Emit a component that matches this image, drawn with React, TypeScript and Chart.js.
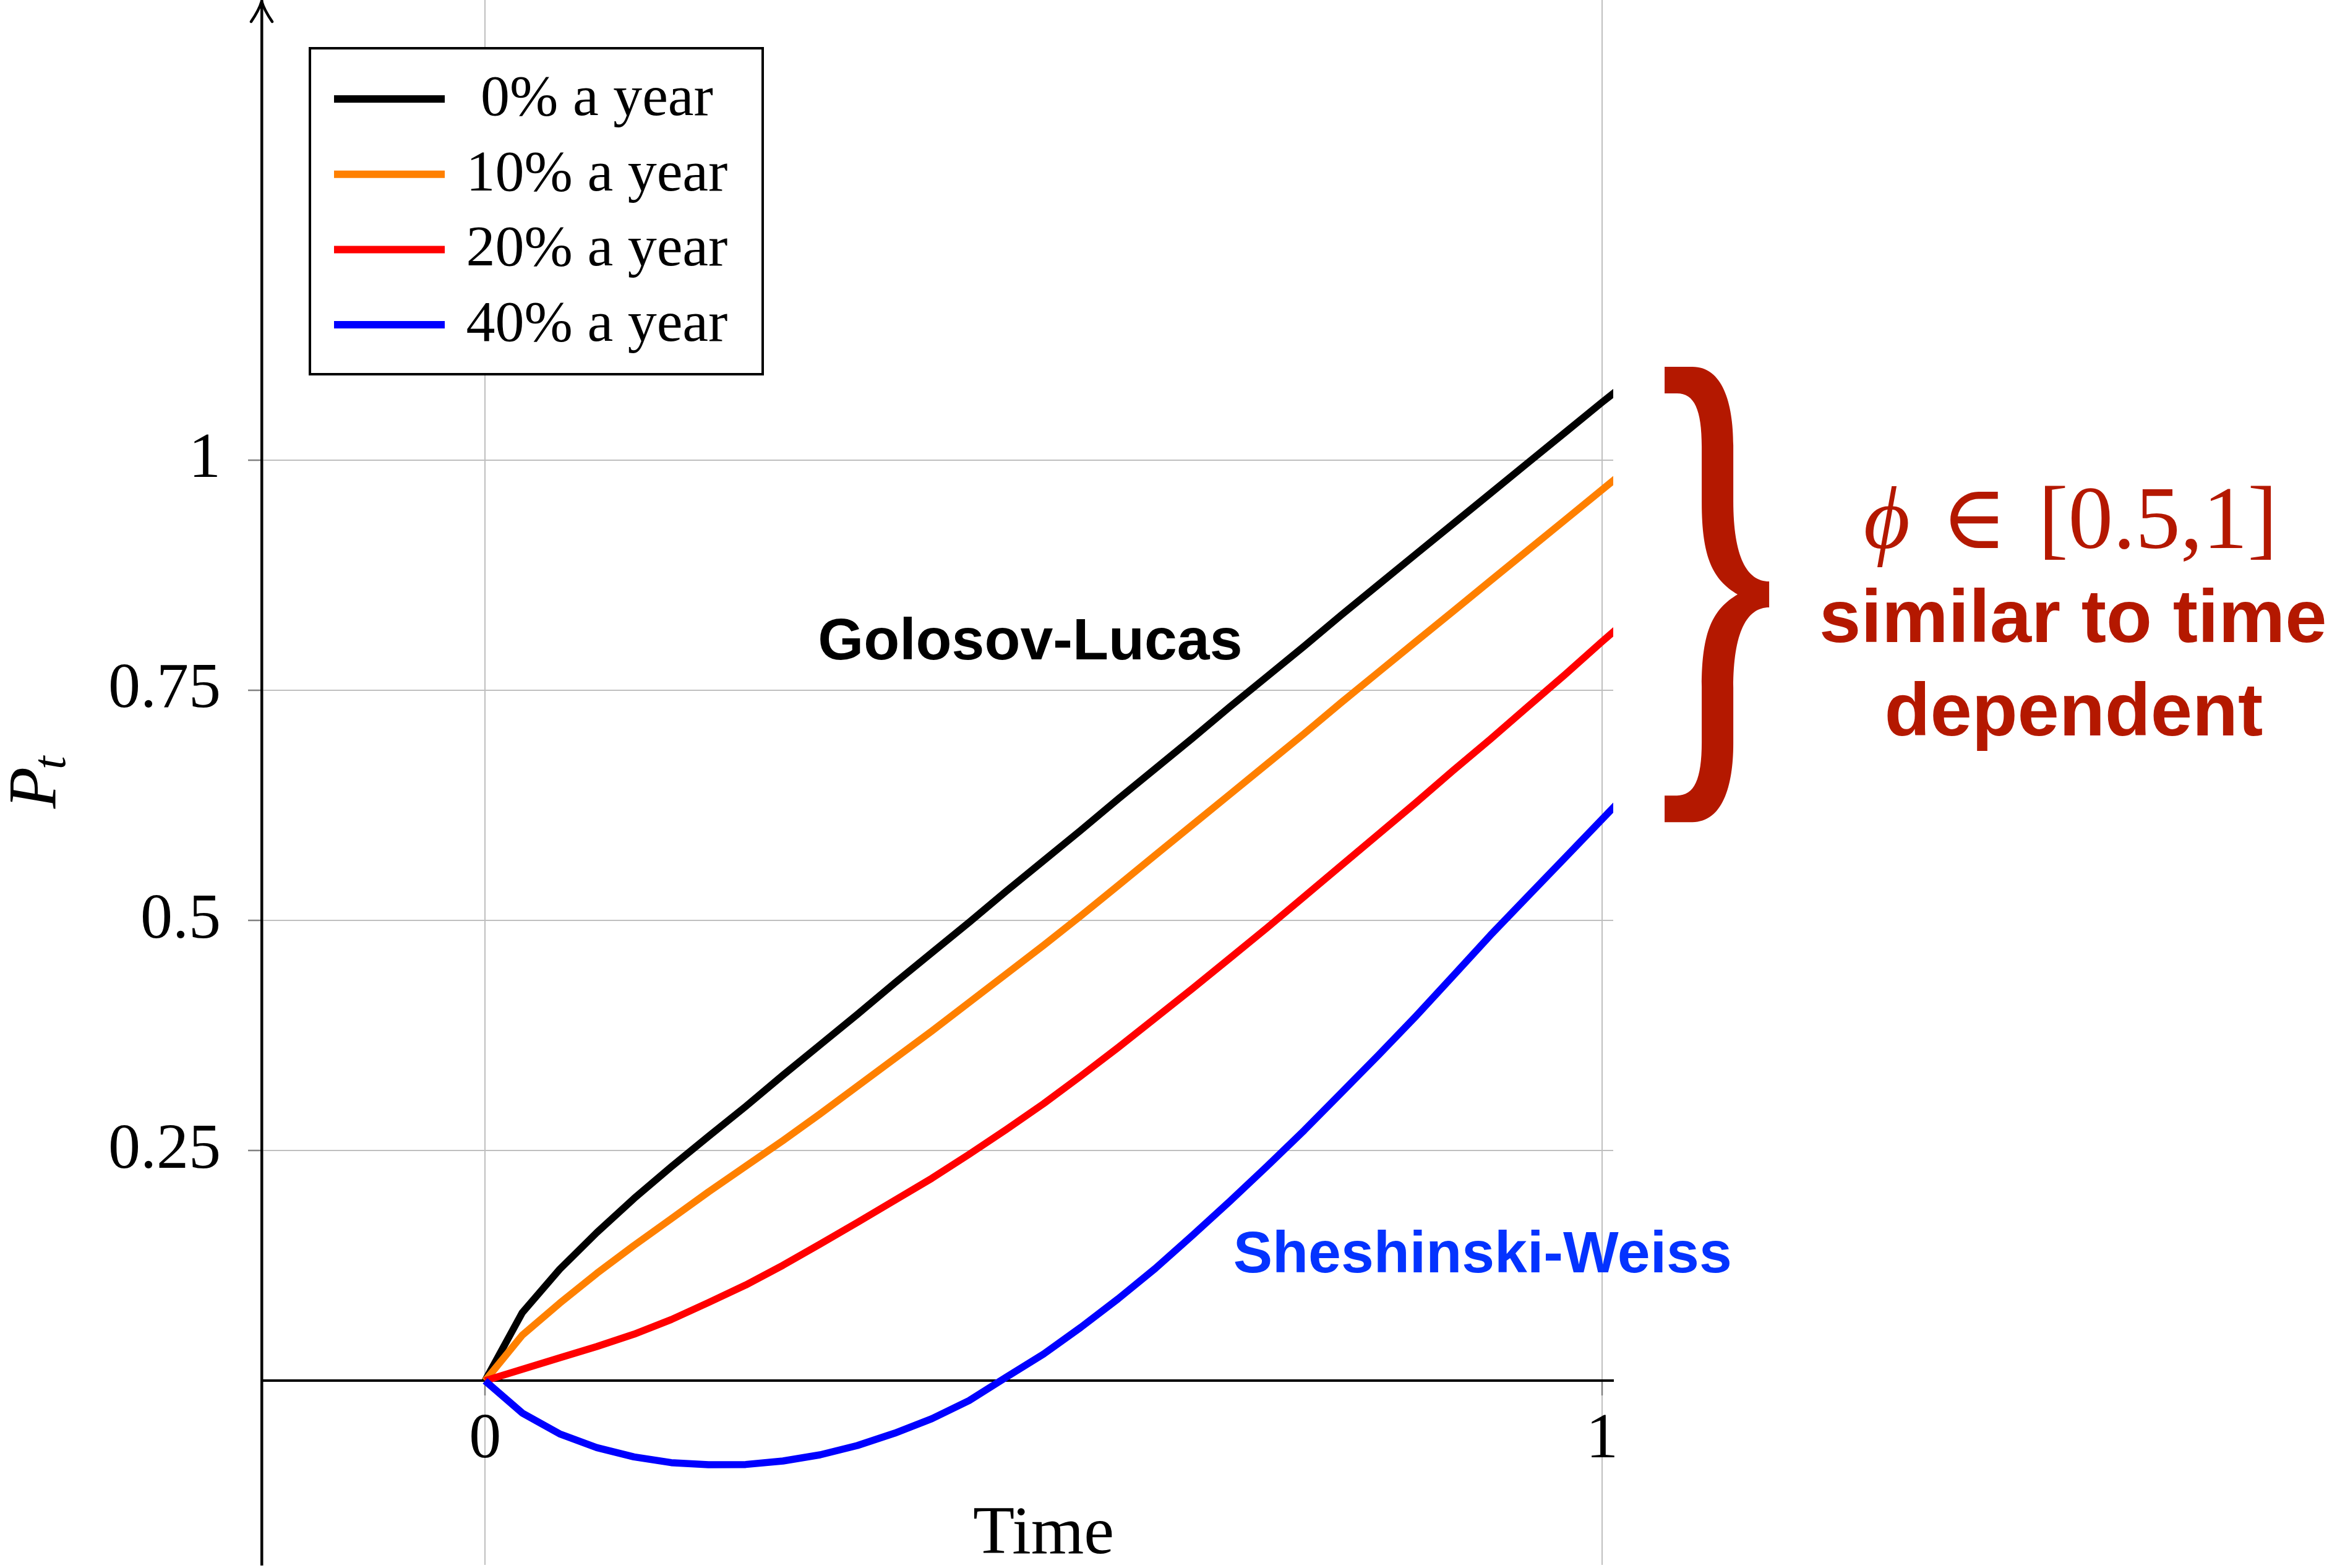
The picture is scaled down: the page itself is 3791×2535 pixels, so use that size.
import React, { useEffect, useRef } from "react";
import { Chart, registerables } from "chart.js";

Chart.register(...registerables);

const W = 3791;
const H = 2535;

// time grid (years)
const timeGrid = [
  0, 0.0333, 0.0667, 0.1, 0.1333, 0.1667, 0.2, 0.2333, 0.2667, 0.3,
  0.3333, 0.3667, 0.4, 0.4333, 0.4667, 0.5, 0.5333, 0.5667, 0.6, 0.6333,
  0.6667, 0.7, 0.7333, 0.7667, 0.8, 0.8333, 0.8667, 0.9, 0.9333, 0.9667,
  1.0, 1.0333,
];

// P_t for each inflation rate
const series0 = [
  0, 0.074, 0.121, 0.161, 0.198, 0.2325, 0.2655, 0.298, 0.332, 0.365,
  0.398, 0.432, 0.465, 0.498, 0.532, 0.565, 0.598, 0.632, 0.665, 0.698,
  0.732, 0.765, 0.798, 0.832, 0.865, 0.898, 0.931, 0.964, 0.997, 1.03,
  1.063, 1.095,
];
const series10 = [
  0, 0.0495, 0.0842, 0.1167, 0.147, 0.176, 0.2052, 0.233, 0.261, 0.29,
  0.32, 0.35, 0.38, 0.411, 0.442, 0.473, 0.505, 0.538, 0.571, 0.604,
  0.637, 0.67, 0.703, 0.737, 0.77, 0.803, 0.836, 0.869, 0.902, 0.935,
  0.968, 1.001,
];
const series20 = [
  0, 0.0125, 0.0249, 0.0372, 0.0506, 0.0665, 0.085, 0.104, 0.1255, 0.1485,
  0.172, 0.196, 0.22, 0.246, 0.273, 0.301, 0.331, 0.362, 0.394, 0.426,
  0.459, 0.492, 0.526, 0.56, 0.594, 0.628, 0.663, 0.697, 0.732, 0.767,
  0.803, 0.838,
];
const series40 = [
  0, -0.035, -0.0576, -0.0726, -0.0827, -0.0889, -0.0912, -0.0909, -0.0871, -0.0804,
  -0.0703, -0.0569, -0.0412, -0.0215, 0.004, 0.029, 0.058, 0.089, 0.122, 0.158,
  0.195, 0.233, 0.272, 0.313, 0.354, 0.396, 0.44, 0.484, 0.526, 0.568,
  0.61, 0.652,
];

const seriesValues = [series0, series10, series20, series40];
const seriesLabels = ["0% a year", "10% a year", "20% a year", "40% a year"];
const seriesColors = ["#000000", "#ff8000", "#ff0000", "#0000ff"];

const xTickValues = [0, 1];
const yTickValues = [0.25, 0.5, 0.75, 1];

const xAxisTitle = "Time";
const annotGL = "Golosov-Lucas";
const annotSW = "Sheshinski-Weiss";
const annotPhiSym = "\u03D5";
const annotIn = "\u2208";
const annotRange = "[0.5,1]";
const annotLine1 = "similar to time";
const annotLine2 = "dependent";

const SERIF = "'Liberation Serif', 'DejaVu Serif', serif";
const SANS = "'Liberation Sans', Arial, 'DejaVu Sans', sans-serif";
const DARK_RED = "#b41800";
const SW_BLUE = "#0433ff";

function drawBrace(ctx: CanvasRenderingContext2D, x0: number, y0: number, x1: number, y1: number) {
  const w = x1 - x0;
  const h = y1 - y0;
  const P = (u: number, v: number): [number, number] => [x0 + u * w, y0 + v * h];
  ctx.beginPath();
  ctx.moveTo(...P(0, 0));
  ctx.lineTo(...P(0.266, 0));
  ctx.bezierCurveTo(...P(0.55, 0), ...P(0.657, 0.0774), ...P(0.657, 0.1726));
  ctx.lineTo(...P(0.657, 0.2948));
  ctx.bezierCurveTo(...P(0.657, 0.4171), ...P(0.787, 0.4715), ...P(1, 0.4715));
  ctx.lineTo(...P(1, 0.5285));
  ctx.bezierCurveTo(...P(0.787, 0.5285), ...P(0.657, 0.5829), ...P(0.657, 0.7052));
  ctx.lineTo(...P(0.657, 0.8274));
  ctx.bezierCurveTo(...P(0.657, 0.9226), ...P(0.55, 1), ...P(0.266, 1));
  ctx.lineTo(...P(0, 1));
  ctx.lineTo(...P(0, 0.9416));
  ctx.lineTo(...P(0.118, 0.9416));
  ctx.bezierCurveTo(...P(0.284, 0.9416), ...P(0.355, 0.9062), ...P(0.355, 0.8247));
  ctx.lineTo(...P(0.355, 0.7024));
  ctx.bezierCurveTo(...P(0.355, 0.5802), ...P(0.462, 0.5326), ...P(0.698, 0.5));
  ctx.bezierCurveTo(...P(0.462, 0.4674), ...P(0.355, 0.4198), ...P(0.355, 0.2976));
  ctx.lineTo(...P(0.355, 0.1753));
  ctx.bezierCurveTo(...P(0.355, 0.0938), ...P(0.284, 0.0584), ...P(0.118, 0.0584));
  ctx.lineTo(...P(0, 0.0584));
  ctx.closePath();
  ctx.fill();
}

const overlayPlugin = {
  id: "overlay",
  afterDraw(chart: any) {
    const ctx: CanvasRenderingContext2D = chart.ctx;
    const xs = chart.scales.x;
    const ys = chart.scales.y;
    const ca = chart.chartArea;
    ctx.save();

    // arrow head on y axis
    const ax = ca.left;
    ctx.strokeStyle = "#000";
    ctx.lineWidth = 4.5;
    ctx.lineCap = "round";
    ctx.beginPath();
    ctx.moveTo(ax - 17, ca.top + 35);
    ctx.quadraticCurveTo(ax - 4, ca.top + 16, ax, ca.top + 2);
    ctx.quadraticCurveTo(ax + 4, ca.top + 16, ax + 17, ca.top + 35);
    ctx.stroke();

    // legend
    const lx = ca.left + 78;
    const ly = ca.top + 78;
    const lw = 732;
    const lh = 527;
    ctx.fillStyle = "#fff";
    ctx.fillRect(lx, ly, lw, lh);
    ctx.lineWidth = 4;
    ctx.lineCap = "butt";
    ctx.strokeStyle = "#000";
    ctx.strokeRect(lx, ly, lw, lh);
    chart.data.datasets.forEach((ds: any, i: number) => {
      const ry = ly + 82 + i * 121.7;
      ctx.strokeStyle = ds.borderColor;
      ctx.lineWidth = 12;
      ctx.beginPath();
      ctx.moveTo(lx + 39, ry);
      ctx.lineTo(lx + 218, ry);
      ctx.stroke();
      ctx.fillStyle = "#000";
      ctx.font = `94px ${SERIF}`;
      ctx.textAlign = "center";
      ctx.textBaseline = "alphabetic";
      ctx.fillText(ds.label, lx + 464, ry + 26);
    });

    // x axis title
    ctx.fillStyle = "#000";
    ctx.font = `110px ${SERIF}`;
    ctx.textAlign = "center";
    ctx.textBaseline = "alphabetic";
    ctx.fillText(xAxisTitle, xs.getPixelForValue(0.5), ys.getPixelForValue(-0.187));

    // y axis title P_t (rotated)
    ctx.save();
    ctx.translate(ca.left - 334, (ca.top + ca.bottom) / 2);
    ctx.rotate(-Math.PI / 2);
    ctx.font = `italic 110px ${SERIF}`;
    const wp = ctx.measureText("P").width;
    ctx.font = `italic 77px ${SERIF}`;
    const wt = ctx.measureText("t").width;
    const tot = wp + wt - 4;
    const sx = -tot / 2;
    ctx.textAlign = "left";
    ctx.font = `italic 110px ${SERIF}`;
    ctx.fillText("P", sx, 0);
    ctx.font = `italic 77px ${SERIF}`;
    ctx.fillText("t", sx + wp - 4, 16);
    ctx.restore();

    // curve annotations
    ctx.textAlign = "center";
    ctx.textBaseline = "alphabetic";
    ctx.font = `bold 95px ${SANS}`;
    ctx.fillStyle = "#000";
    ctx.fillText(annotGL, xs.getPixelForValue(0.488), ys.getPixelForValue(0.7836));
    ctx.fillStyle = SW_BLUE;
    ctx.fillText(annotSW, xs.getPixelForValue(0.893), ys.getPixelForValue(0.118));

    // brace
    ctx.fillStyle = DARK_RED;
    drawBrace(
      ctx,
      xs.getPixelForValue(1.056),
      ys.getPixelForValue(1.1015),
      xs.getPixelForValue(1.1496),
      ys.getPixelForValue(0.6069)
    );

    // phi in [0.5,1]
    const phiFont = `italic 145px ${SERIF}`;
    const serifFont = `145px ${SERIF}`;
    ctx.font = phiFont;
    const w1 = ctx.measureText(annotPhiSym).width;
    ctx.font = serifFont;
    const w2 = ctx.measureText(annotIn).width;
    const w3 = ctx.measureText(annotRange).width;
    const gap = 50;
    const total = w1 + gap + w2 + gap + w3;
    const cx = xs.getPixelForValue(1.4194);
    const by = ys.getPixelForValue(0.905);
    let px = cx - total / 2;
    ctx.textAlign = "left";
    ctx.font = phiFont;
    ctx.fillText(annotPhiSym, px, by);
    px += w1 + gap;
    ctx.font = serifFont;
    ctx.fillText(annotIn, px, by);
    px += w2 + gap;
    ctx.fillText(annotRange, px, by);

    ctx.textAlign = "center";
    ctx.font = `bold 121px ${SANS}`;
    ctx.fillText(annotLine1, xs.getPixelForValue(1.4216), ys.getPixelForValue(0.8024));
    ctx.fillText(annotLine2, xs.getPixelForValue(1.4222), ys.getPixelForValue(0.701));

    ctx.restore();
  },
};

export default function App() {
  const ref = useRef<HTMLCanvasElement>(null);

  useEffect(() => {
    const canvas = ref.current;
    if (!canvas) return;
    const datasets = seriesLabels.map((label, i) => ({
      label,
      data: timeGrid.map((t, j) => ({ x: t, y: seriesValues[i][j] })),
      borderColor: seriesColors[i],
      backgroundColor: seriesColors[i],
      borderWidth: 11.5,
      pointRadius: 0,
      pointHoverRadius: 0,
      tension: 0,
      fill: false,
      borderJoinStyle: "round" as const,
      order: seriesLabels.length - 1 - i,
    }));

    const tickFont = { family: SERIF, size: 104 };

    const chart = new Chart(canvas, {
      type: "line",
      data: { datasets },
      options: {
        responsive: false,
        animation: false,
        devicePixelRatio: 1,
        events: [],
        layout: {
          autoPadding: false,
          padding: { left: 0, top: 0, right: 1183, bottom: 5 },
        },
        plugins: {
          legend: { display: false },
          tooltip: { enabled: false },
          title: { display: false },
        },
        scales: {
          x: {
            type: "linear",
            min: -0.2,
            max: 1.01,
            position: { y: 0 },
            afterBuildTicks: (s: any) => {
              s.ticks = xTickValues.map((v) => ({ value: v }));
            },
            afterFit: (s: any) => {
              s.paddingLeft = 0;
              s.paddingRight = 0;
              s.paddingTop = 0;
              s.paddingBottom = 0;
            },
            ticks: {
              callback: (v: any) => String(v),
              font: tickFont,
              color: "#000",
              padding: 12,
              maxRotation: 0,
              autoSkip: false,
            },
            grid: {
              color: "#bfbfbf",
              lineWidth: 2,
              tickLength: 22,
              tickColor: "#808080",
              tickWidth: 2.5,
            },
            border: { color: "#000", width: 4 },
          },
          y: {
            type: "linear",
            min: -0.2,
            max: 1.5,
            position: "left",
            afterBuildTicks: (s: any) => {
              s.ticks = yTickValues.map((v) => ({ value: v }));
            },
            afterFit: (s: any) => {
              s.width = 423;
              s.paddingTop = 0;
              s.paddingBottom = 0;
              s.paddingLeft = 0;
              s.paddingRight = 0;
            },
            ticks: {
              callback: (v: any) => String(v),
              font: tickFont,
              color: "#000",
              padding: 44,
              autoSkip: false,
            },
            grid: {
              color: "#bfbfbf",
              lineWidth: 2,
              tickLength: 22,
              tickColor: "#808080",
              tickWidth: 2.5,
            },
            border: { color: "#000", width: 4.5 },
          },
        },
      } as any,
      plugins: [overlayPlugin],
    });

    return () => chart.destroy();
  }, []);

  return (
    <div style={{ position: "fixed", left: 0, top: 0, width: W, height: H, background: "#fff" }}>
      <canvas ref={ref} width={W} height={H} style={{ display: "block", width: W, height: H }} />
    </div>
  );
}
